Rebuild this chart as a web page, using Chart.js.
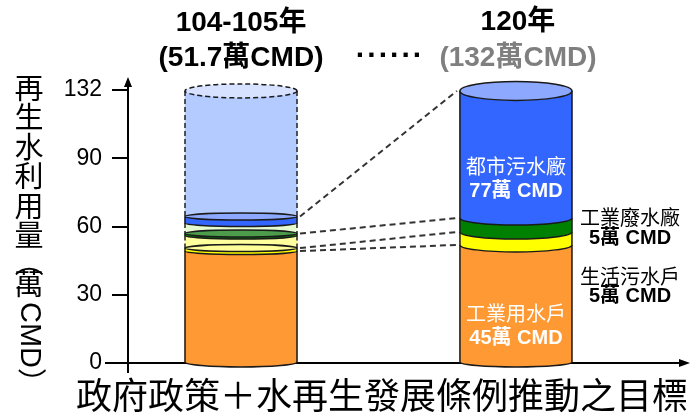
<!DOCTYPE html>
<html lang="zh-Hant">
<head>
<meta charset="UTF-8">
<title>再生水利用量</title>
<script src="https://cdn.jsdelivr.net/npm/chart.js"></script>
<style>
  html, body { margin: 0; padding: 0; background: #fff; }
  #wrap { width: 699px; height: 415px; }
</style>
</head>
<body>
<div id="wrap"><canvas id="chart"></canvas></div>
<script>
  // columns
  const categories = ['104-105年', '120年'];
  const totals = ['(51.7萬CMD)', '(132萬CMD)'];
  const xPos = [1, 2];

  // y axis (drawn schematic: top tick reads 132)
  const tickValues = [0, 30, 60, 90, 120];
  const tickLabels = ['0', '30', '60', '90', '132'];

  // segment heights, in axis units
  const orangeVals = [49.2, 51.9];
  const yellowVals = [1.3, 5.7];
  const paleYellowVals = [5.5, 0];
  const greenVals = [0.9, 6.1];
  const paleGreenVals = [4.6, 0];
  const blueVals = [2.9, 55.9];
  const paleBlueVals = [55.2, 0];

  // annotations
  const seriesNames = ['工業用水戶', '生活污水戶', '工業廢水廠', '都市污水廠'];
  const seriesAmounts = ['45萬 CMD', '5萬 CMD', '5萬 CMD', '77萬 CMD'];
  const yTitle = ['再', '生', '水', '利', '用', '量'];
  const bottomTitle = '政府政策＋水再生發展條例推動之目標';

  const LATIN = '"Liberation Sans", "Noto Sans CJK TC", sans-serif';
  const CJK = '"Noto Sans CJK TC", "Liberation Sans", sans-serif';

  function pts(vals) {
    return vals.map((v, i) => ({ x: xPos[i], y: v }));
  }

  const datasets = [
    { label: seriesNames[0], data: pts(orangeVals), backgroundColor: '#FF9933', topColor: '#FFB366', solid: true },
    { label: seriesNames[1], data: pts(yellowVals), backgroundColor: '#FFFF00', topColor: '#FFFF99', solid: true },
    { label: '擴增', data: pts(paleYellowVals), backgroundColor: '#FFFF9E', solid: false },
    { label: seriesNames[2], data: pts(greenVals), backgroundColor: '#008000', topColor: '#4C9C4C', solid: true },
    { label: '擴增', data: pts(paleGreenVals), backgroundColor: '#E6FBCF', solid: false },
    { label: seriesNames[3], data: pts(blueVals), backgroundColor: '#3366FF', topColor: '#8CA8FF', solid: true },
    { label: '擴增', data: pts(paleBlueVals), backgroundColor: '#B4CBFF', topColor: '#D6E2FF', solid: false }
  ];

  // ellipse half-heights per column (perspective)
  const ry = [{ top: 7, mid: 3.5, bottom: 5 }, { top: 9.5, mid: 7, bottom: 5 }];

  function segments(chart, c) {
    const segs = [];
    chart.data.datasets.forEach((ds, d) => {
      if (!ds.data[c].y) return;
      const el = chart.getDatasetMeta(d).data[c];
      segs.push({ x: el.x, w: el.width, top: el.y, bot: el.base, ds: ds, d: d });
    });
    return segs;
  }

  const axesPlugin = {
    id: 'axes',
    beforeDatasetsDraw(chart) {
      const ctx = chart.ctx;
      const a = chart.chartArea;
      const zeroY = chart.scales.y.getPixelForValue(0);
      ctx.save();
      ctx.strokeStyle = '#000';
      ctx.fillStyle = '#000';
      ctx.lineWidth = 2;
      ctx.beginPath();
      ctx.moveTo(a.left, zeroY + 10);
      ctx.lineTo(a.left, a.top - 6);
      ctx.moveTo(a.left - 23, zeroY);
      ctx.lineTo(a.right - 6, zeroY);
      ctx.stroke();
      // arrow heads
      ctx.beginPath();
      ctx.moveTo(a.left, a.top - 13);
      ctx.lineTo(a.left - 4, a.top - 3);
      ctx.lineTo(a.left + 4, a.top - 3);
      ctx.closePath();
      ctx.fill();
      ctx.beginPath();
      ctx.moveTo(a.right, zeroY);
      ctx.lineTo(a.right - 11, zeroY - 4);
      ctx.lineTo(a.right - 11, zeroY + 4);
      ctx.closePath();
      ctx.fill();
      ctx.restore();
    }
  };

  const cylinderPlugin = {
    id: 'cylinder',
    afterDatasetsDraw(chart) {
      const ctx = chart.ctx;
      for (let c = 0; c < xPos.length; c++) {
        const segs = segments(chart, c);
        const r = ry[c];
        ctx.save();
        // bodies
        segs.forEach((s, i) => {
          const l = s.x - s.w / 2, rr = s.x + s.w / 2;
          ctx.fillStyle = s.ds.backgroundColor;
          ctx.beginPath();
          ctx.moveTo(l, s.top);
          ctx.lineTo(rr, s.top);
          ctx.lineTo(rr, s.bot);
          if (s.ds.solid) ctx.ellipse(s.x, s.bot, s.w / 2, i === 0 ? r.bottom : r.mid, 0, 0, Math.PI);
          else ctx.lineTo(l, s.bot);
          ctx.closePath();
          ctx.fill();
        });
        // outlines
        segs.forEach((s, i) => {
          const l = s.x - s.w / 2, rr = s.x + s.w / 2;
          ctx.lineWidth = 1.5;
          ctx.beginPath();
          if (s.ds.solid) {
            ctx.strokeStyle = '#1a1a1a';
            ctx.setLineDash([]);
            ctx.moveTo(l, s.top);
            ctx.lineTo(l, s.bot);
            ctx.ellipse(s.x, s.bot, s.w / 2, i === 0 ? r.bottom : r.mid, 0, Math.PI, 0, true);
            ctx.lineTo(rr, s.top);
          } else {
            ctx.strokeStyle = '#222';
            ctx.setLineDash([5, 3]);
            ctx.moveTo(l, s.top);
            ctx.lineTo(l, s.bot);
            ctx.moveTo(rr, s.top);
            ctx.lineTo(rr, s.bot);
          }
          ctx.stroke();
        });
        // visible top faces
        segs.forEach((s, i) => {
          const last = i === segs.length - 1;
          if (!last && !(s.ds.solid && !segs[i + 1].ds.solid)) return;
          ctx.fillStyle = s.ds.topColor;
          ctx.strokeStyle = '#1a1a1a';
          ctx.lineWidth = 1.5;
          ctx.setLineDash(s.ds.solid ? [] : [5, 3]);
          ctx.beginPath();
          ctx.ellipse(s.x, s.top, s.w / 2, last ? r.top : r.mid, 0, 0, Math.PI * 2);
          ctx.fill();
          ctx.stroke();
        });
        ctx.restore();
      }

      // dashed links between matching series
      const links = [0, 1, 3, 5];
      ctx.save();
      ctx.strokeStyle = '#333';
      ctx.lineWidth = 2;
      ctx.setLineDash([6, 4]);
      links.forEach(d => {
        const a = chart.getDatasetMeta(d).data[0];
        const b = chart.getDatasetMeta(d).data[1];
        ctx.beginPath();
        ctx.moveTo(a.x + a.width / 2 + 3, a.y);
        ctx.lineTo(b.x - b.width / 2 - 3, b.y);
        ctx.stroke();
      });
      ctx.restore();
    }
  };

  const textPlugin = {
    id: 'texts',
    afterDraw(chart) {
      const ctx = chart.ctx;
      const m0 = chart.getDatasetMeta(0).data;
      const xl = m0[0].x, xr = m0[1].x;
      ctx.save();
      ctx.textAlign = 'center';
      ctx.textBaseline = 'middle';

      // column headings
      ctx.font = 'bold 28px ' + LATIN;
      ctx.fillStyle = '#000';
      ctx.fillText(categories[0], xl, 23);
      ctx.fillText(totals[0], xl, 58);
      ctx.fillText(categories[1], xr + 2, 22);
      ctx.fillStyle = '#7f7f7f';
      ctx.fillText(totals[1], xr + 2, 58);
      ctx.fillStyle = '#000';
      ctx.textBaseline = 'alphabetic';
      ctx.font = 'bold 30px ' + LATIN;
      for (let i = 0; i < 6; i++) ctx.fillText('.', 360 + i * 11.4, 57);
      ctx.textBaseline = 'middle';

      // labels inside the right column
      ctx.fillStyle = '#fff';
      ctx.font = '20px ' + CJK;
      ctx.fillText(seriesNames[3], xr, 166);
      ctx.fillText(seriesNames[0], xr, 313);
      ctx.font = 'bold 20px ' + LATIN;
      ctx.fillText(seriesAmounts[3], xr, 191);
      ctx.fillText(seriesAmounts[0], xr, 338);

      // labels beside the right column
      ctx.fillStyle = '#000';
      ctx.font = '20px ' + CJK;
      ctx.fillText(seriesNames[2], 630, 217);
      ctx.fillText(seriesNames[1], 630, 276);
      ctx.font = 'bold 20px ' + LATIN;
      ctx.fillText(seriesAmounts[2], 630, 238);
      ctx.fillText(seriesAmounts[1], 630, 296);

      // vertical y title
      ctx.font = '29px ' + CJK;
      yTitle.forEach((ch, i) => ctx.fillText(ch, 29, 88 + i * 29.4));
      ctx.fillText('萬', 29, 284);
      ctx.save();
      ctx.translate(29, 262);
      ctx.rotate(Math.PI / 2);
      ctx.fillText('（', 0, 0);
      ctx.restore();
      ctx.save();
      ctx.translate(29, 302);
      ctx.rotate(Math.PI / 2);
      ctx.textAlign = 'left';
      ctx.font = '29px ' + LATIN;
      ctx.fillText('CMD）', 0, 0);
      ctx.restore();

      // bottom title
      ctx.font = '36px ' + CJK;
      ctx.fillText(bottomTitle, 382, 395);
      ctx.restore();
    }
  };

  new Chart(document.getElementById('chart'), {
    type: 'bar',
    data: { datasets: datasets },
    options: {
      responsive: true,
      maintainAspectRatio: false,
      animation: false,
      layout: { padding: { top: 90, bottom: 52, left: 0, right: 9 } },
      datasets: { bar: { barThickness: 112, borderWidth: 0 } },
      plugins: { legend: { display: false }, tooltip: { enabled: false } },
      scales: {
        x: {
          type: 'linear',
          stacked: true,
          display: false,
          offset: false,
          min: 0.589,
          max: 2.633
        },
        y: {
          stacked: true,
          min: 0,
          max: 120,
          afterFit: s => { s.width = 128; },
          afterBuildTicks: s => { s.ticks = tickValues.map(v => ({ value: v })); },
          border: { display: false },
          grid: { drawOnChartArea: false, drawTicks: true, tickLength: 16, color: '#000', lineWidth: 2 },
          ticks: {
            color: '#000',
            padding: 10,
            font: { family: 'Liberation Sans', size: 23 },
            callback: (v, i) => tickLabels[i]
          }
        }
      }
    },
    plugins: [axesPlugin, cylinderPlugin, textPlugin]
  });
</script>
</body>
</html>
